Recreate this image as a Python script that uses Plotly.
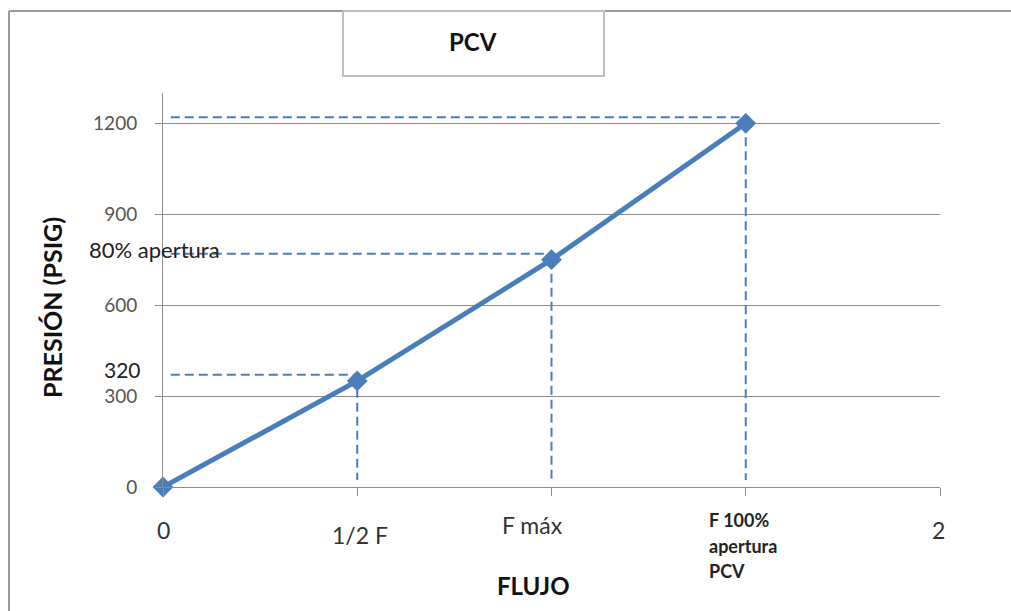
import plotly.graph_objects as go

# ---- data ----
flow = [0, 0.5, 1.0, 1.5]
pressure = [0, 350, 750, 1200]
guide_levels = [370, 770, 1220]        # horizontal dashed guides
guide_ends = [0.5, 1.0, 1.5]           # where each horizontal guide ends (x)
vert_tops = [370, 750, 1200]           # top of each vertical dashed guide
guide_start_x = 0.02
vert_bottom = 23
y_ticks = [0, 300, 600, 900, 1200]
x_labels = ["0", "1/2 F", "F máx", "2"]
x_label_pos = [0, 0.5, 1.0, 2.0]
x_label_shift = [0, 3, -19, -2]
x_label_yshift = [0, -5, 5, 0]
pcv_lines = ["F 100%", "apertura", "PCV"]
pcv_x = 1.5

BLUE = "#4a7ebb"
GRID = "#8c8c8c"
FONT = "Lato"

L, R, T, B = 163, 71, 93, 124
PW, PH = 1011 - L - R, 611 - T - B

fig = go.Figure()

# dashed guides
for lvl, xe in zip(guide_levels, guide_ends):
    fig.add_trace(go.Scatter(x=[guide_start_x, xe], y=[lvl, lvl], mode="lines",
                             line=dict(color=BLUE, width=2, dash="9px,5px"),
                             hoverinfo="skip", showlegend=False))
for xe, top in zip(guide_ends, vert_tops):
    fig.add_trace(go.Scatter(x=[xe, xe], y=[top, vert_bottom], mode="lines",
                             line=dict(color=BLUE, width=2, dash="9px,5px"),
                             hoverinfo="skip", showlegend=False))

# main series
fig.add_trace(go.Scatter(x=flow, y=pressure, mode="lines+markers",
                         line=dict(color=BLUE, width=5),
                         marker=dict(symbol="diamond", size=16, color=BLUE),
                         cliponaxis=False, showlegend=False))

fig.update_layout(
    width=1011, height=611,
    margin=dict(l=L, r=R, t=T, b=B),
    paper_bgcolor="white", plot_bgcolor="white",
    font=dict(family=FONT, color="#222"),
    showlegend=False,
)
fig.update_xaxes(range=[0, 2], showgrid=False, zeroline=False,
                 showline=True, linecolor=GRID, linewidth=1,
                 tickvals=[0, 0.5, 1, 1.5, 2], ticks="outside", ticklen=8,
                 tickcolor=GRID, showticklabels=False)
fig.update_yaxes(range=[0, 1300], tickvals=y_ticks, showgrid=True,
                 gridcolor=GRID, gridwidth=1, zeroline=False,
                 showline=True, linecolor=GRID, linewidth=1,
                 ticks="outside", ticklen=7, tickcolor=GRID,
                 ticklabelstandoff=14,
                 tickfont=dict(family=FONT, size=19, color="#555"))

# x tick labels
for lab, xp, xs, ys in zip(x_labels, x_label_pos, x_label_shift, x_label_yshift):
    fig.add_annotation(x=xp, y=0, xref="x", yref="paper", text=lab,
                       showarrow=False, yanchor="middle", xanchor="center",
                       yshift=-43 + ys, xshift=xs,
                       font=dict(family=FONT, size=23, color="#333"))
for i, t in enumerate(pcv_lines):
    fig.add_annotation(x=pcv_x, y=0, xref="x", yref="paper", text=t,
                       showarrow=False, xanchor="left", yanchor="middle",
                       xshift=-39, yshift=-33 - 25.5 * i,
                       font=dict(family=FONT, size=18, color="#222",
                                 weight="bold"))

# value labels on y
fig.add_annotation(x=0, y=guide_levels[0], xref="paper", yref="y", text="320",
                   showarrow=False, xanchor="right", yanchor="middle",
                   xshift=-20, yshift=5,
                   font=dict(family=FONT, size=21, color="#222"))
fig.add_annotation(x=0, y=guide_levels[1], xref="paper", yref="y",
                   text="80% apertura", showarrow=False, xanchor="left",
                   yanchor="middle", xshift=-76, yshift=4,
                   font=dict(family=FONT, size=22, color="#222"))


def px(x):
    return (x - L) / PW


def py(y):
    return (611 - B - y) / PH


# axis titles
fig.add_annotation(x=px(533), y=py(585), xref="paper",
                   yref="paper", text="<b>FLUJO</b>", showarrow=False,
                   xanchor="center", yanchor="middle",
                   font=dict(family=FONT, size=24, color="#111"))
fig.add_annotation(x=px(52), y=py(308), xref="paper",
                   yref="paper", text="<b>PRESIÓN (PSIG)</b>", textangle=-90,
                   showarrow=False, xanchor="center", yanchor="middle",
                   font=dict(family=FONT, size=25, color="#111"))

# frame and title box
BORDER = "#9a9a9a"
fig.add_shape(type="line", xref="paper", yref="paper", x0=px(9), y0=py(611),
              x1=px(9), y1=py(11), line=dict(color=BORDER, width=2))
fig.add_shape(type="line", xref="paper", yref="paper", x0=px(9), y0=py(11),
              x1=px(343), y1=py(11), line=dict(color=BORDER, width=2))
fig.add_shape(type="line", xref="paper", yref="paper", x0=px(604), y0=py(11),
              x1=px(1011), y1=py(11), line=dict(color=BORDER, width=2))
fig.add_shape(type="rect", xref="paper", yref="paper", x0=px(343), y0=py(76),
              x1=px(604), y1=py(11), line=dict(color="#c0c0c0", width=2),
              fillcolor="white")
fig.add_annotation(x=px(473), y=py(41), xref="paper", yref="paper",
                   text="<b>PCV</b>", showarrow=False, xanchor="center",
                   yanchor="middle", font=dict(family=FONT, size=24, color="#111"))

fig.write_html("out.html")
